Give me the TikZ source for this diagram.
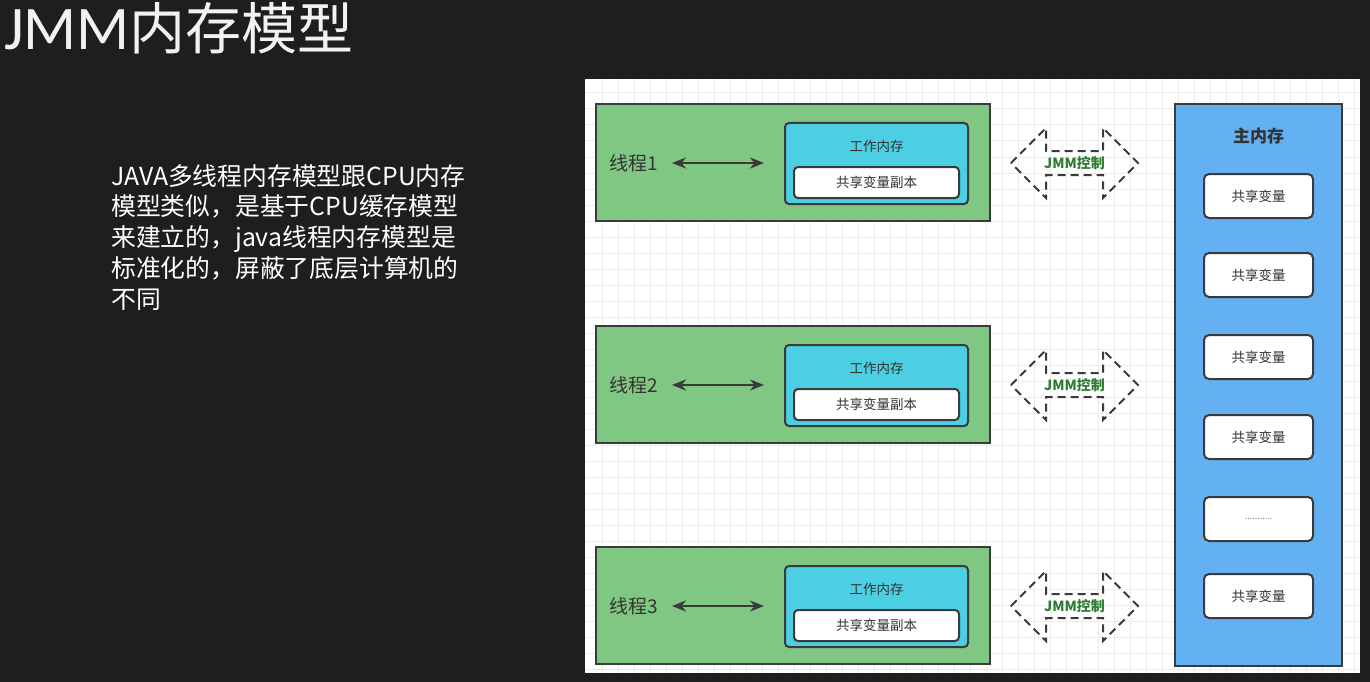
\documentclass[tikz,border=0pt]{standalone}
\usepackage{fontspec}
\usetikzlibrary{arrows.meta}
\newfontfamily\cjk{Noto Sans CJK SC}
\newfontfamily\latinf{Carlito}
\definecolor{slidebg}{RGB}{30,30,30}
\definecolor{gridgray}{RGB}{236,236,236}
\definecolor{edge}{RGB}{58,58,58}
\definecolor{threadgreen}{RGB}{129,199,132}
\definecolor{workcyan}{RGB}{76,207,226}
\definecolor{mainblue}{RGB}{99,177,243}
\definecolor{ink}{RGB}{51,51,51}
\definecolor{jmmgreen}{RGB}{46,125,50}
\tikzset{
  threadbox/.style={draw=edge, line width=2pt, fill=threadgreen, minimum width=394pt, minimum height=117pt, inner sep=0pt},
  workbox/.style={draw=edge, line width=2pt, fill=workcyan, rounded corners=4pt, minimum width=183pt, minimum height=81pt, inner sep=0pt},
  copybox/.style={draw=edge, line width=2pt, fill=white, rounded corners=4pt, minimum width=165pt, minimum height=31pt, inner sep=0pt, text=ink, font={\cjk\fontsize{13.5}{16}\selectfont}},
  varbox/.style={draw=edge, line width=2pt, fill=white, rounded corners=5pt, minimum width=109pt, minimum height=44pt, inner sep=0pt, text=ink, font={\cjk\fontsize{13.5}{16}\selectfont}},
  smalltext/.style={text=ink, inner sep=0pt, font={\cjk\fontsize{13.5}{16}\selectfont}},
  threadlabel/.style={text=ink, inner sep=0pt, font={\cjk\fontsize{19}{22}\selectfont}},
  jmmlabel/.style={text=jmmgreen, inner sep=0pt, font={\cjk\bfseries\fontsize{14}{16}\selectfont}},
  linkarrow/.style={draw=edge, line width=2.5pt, {Stealth[length=14pt,width=11pt]}-{Stealth[length=14pt,width=11pt]}},
  jmmarrow/.style={draw=edge, line width=2pt, dash pattern=on 8pt off 5pt},
  gridline/.style={draw=gridgray, line width=1pt}
}
\begin{document}
\begin{tikzpicture}[x=1pt,y=-1pt]
  % slide background and page size
  \fill[slidebg] (0,0) rectangle (1370,682);
  \useasboundingbox (0,0) rectangle (1370,682);

  % title and description
  \node[anchor=base west, inner sep=0pt, text=white!95!black] (title) at (4,50)
    {{\fontsize{62}{64}\selectfont\latinf JMM}{\fontsize{56}{60}\selectfont\cjk 内存模型}};
  \node[anchor=north west, inner sep=0pt, align=left, text=white,
        font={\cjk\fontsize{24.8}{30.8}\selectfont}] (desc) at (111,164)
    {JAVA多线程内存模型跟CPU内存\\
     模型类似，是基于CPU缓存模型\\
     来建立的，java线程内存模型是\\
     标准化的，屏蔽了底层计算机的\\
     不同};

  % diagram canvas with grid
  \fill[white] (585,79) rectangle (1360,673);
  \foreach \x in {602,618,...,1358} \draw[gridline] (\x,79) -- (\x,673);
  \foreach \y in {93,109,...,671} \draw[gridline] (585,\y) -- (1360,\y);

  % threads with their working memory
  \foreach \k/\dy in {1/0,2/222,3/443}{
    \node[threadbox] (thread\k) at (793,162.5+\dy) {};
    \node[workbox] (work\k) at (876.5,163.5+\dy) {};
    \node[smalltext] (worktitle\k) at (876.5,146+\dy) {工作内存};
    \node[copybox] (copy\k) at (876.5,182.5+\dy) {共享变量副本};
    \node[threadlabel] (name\k) at (634,163+\dy) {线程\k};
    \coordinate (la\k) at (672,163+\dy);
    \coordinate (lb\k) at (764,163+\dy);
    \draw[linkarrow] (la\k) -- (lb\k);
    % JMM control: dashed double arrow
    \node[jmmlabel] (jmm\k) at (1074.5,163+\dy) {JMM控制};
    \draw[jmmarrow, shift={(jmm\k.center)}]
      (-63.5,0) -- (-28.5,-35) -- (-28.5,-12) -- (28.5,-12) -- (28.5,-35)
      -- (63.5,0) -- (28.5,35) -- (28.5,12) -- (-28.5,12) -- (-28.5,35) -- cycle;
  }

  % main memory
  \node[draw=edge, line width=2pt, fill=mainblue, minimum width=167pt, minimum height=562pt, inner sep=0pt] (main) at (1258.5,385) {};
  \node[text=ink, inner sep=0pt, font={\cjk\bfseries\fontsize{17}{20}\selectfont}] (maintitle) at (1258.5,136) {主内存};
  \node[varbox] (var1) at (1258.5,196) {共享变量};
  \node[varbox] (var2) at (1258.5,275) {共享变量};
  \node[varbox] (var3) at (1258.5,357) {共享变量};
  \node[varbox] (var4) at (1258.5,437) {共享变量};
  \node[varbox, text=gray, font={\cjk\fontsize{9}{10}\selectfont}] (var5) at (1258.5,519) {...........};
  \node[varbox] (var6) at (1258.5,596) {共享变量};
\end{tikzpicture}
\end{document}
